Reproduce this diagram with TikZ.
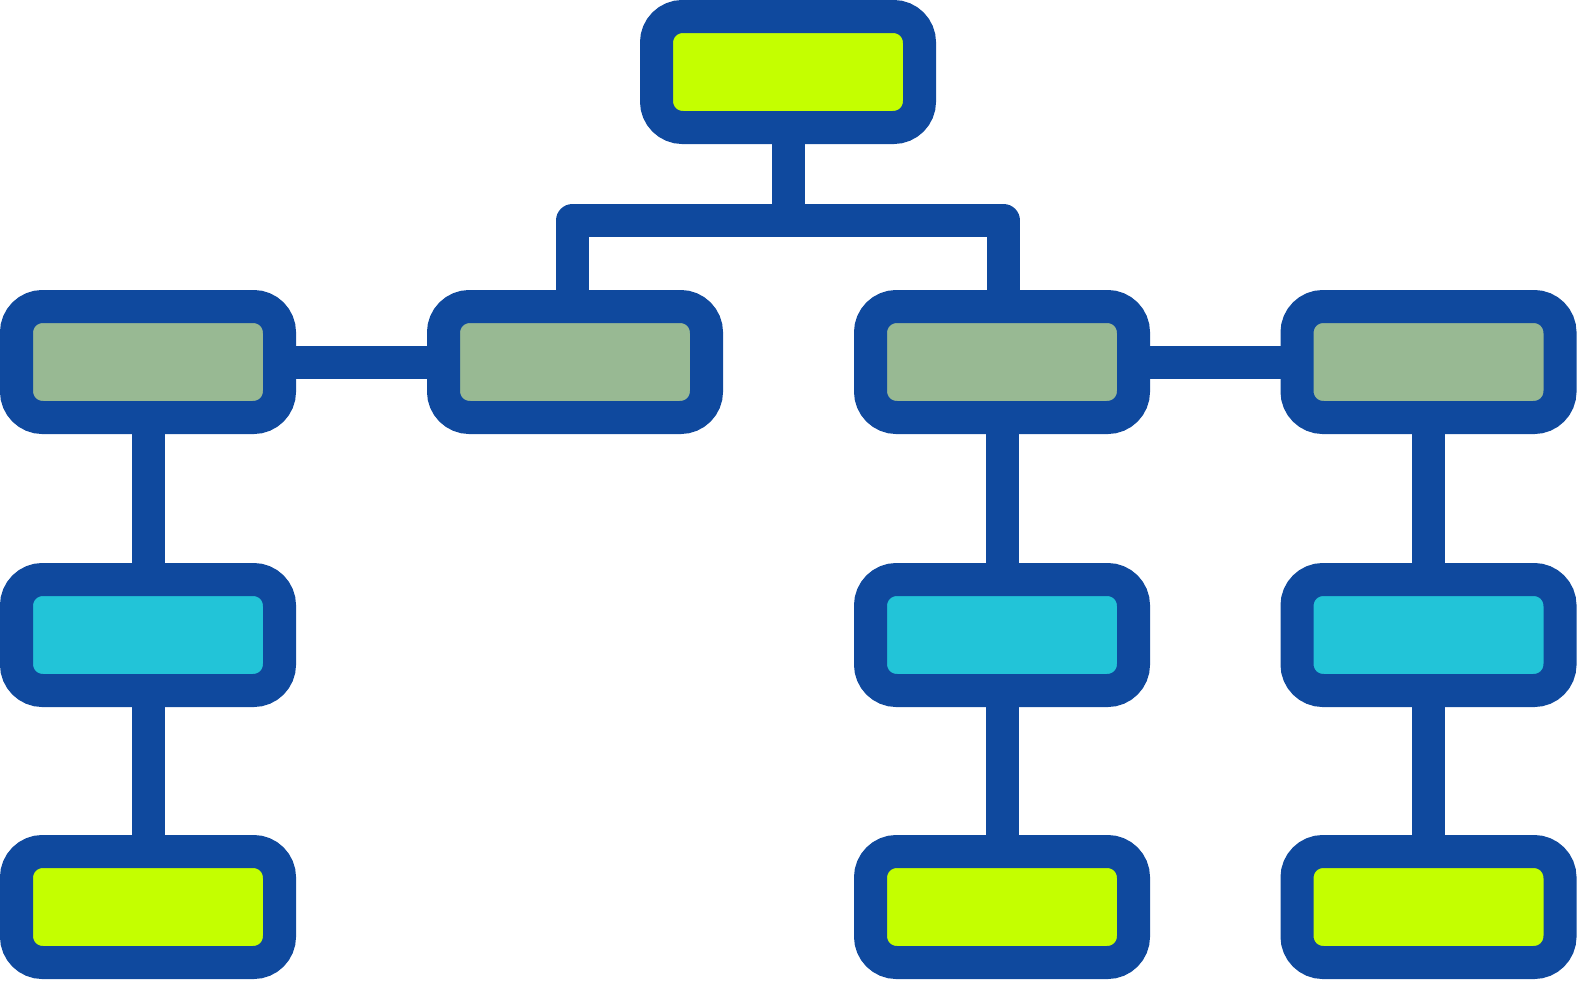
\documentclass[tikz,border=0pt]{standalone}
\usetikzlibrary{calc}
\definecolor{navy}{RGB}{15,73,158}
\definecolor{lime}{RGB}{196,255,0}
\definecolor{sage}{RGB}{152,185,147}
\definecolor{aqua}{RGB}{34,196,216}
\begin{document}
\begin{tikzpicture}[x=1pt,y=-1pt,
  box/.style={draw=navy, line width=33pt, rounded corners=26pt, minimum width=263pt, minimum height=111pt, inner sep=0pt},
  conn/.style={draw=navy, line width=33pt, line join=round}]
\useasboundingbox (0,0) rectangle (1577,980);
% connectors drawn after nodes but only over the borders
\node[box, fill=lime] (t) at (788,72) {};
\node[box, fill=sage] (b1) at (148,362) {};
\node[box, fill=sage] (b2) at (575,362) {};
\node[box, fill=sage] (b3) at (1002,362) {};
\node[box, fill=sage] (b4) at (1428.5,362) {};
\node[box, fill=aqua] (c1) at (148,635) {};
\node[box, fill=aqua] (c3) at (1002,635) {};
\node[box, fill=aqua] (c4) at (1428.5,635) {};
\node[box, fill=lime] (d1) at (148,907) {};
\node[box, fill=lime] (d3) at (1002,907) {};
\node[box, fill=lime] (d4) at (1428.5,907) {};
\coordinate (j) at (788,220.5);
\draw[conn] (t.south) -- (j);
\draw[conn] ([xshift=-2.5pt]b2.north) |- (j) -| ([xshift=1.5pt]b3.north);
\draw[conn] (b1.east) -- (b2.west);
\draw[conn] (b3.east) -- (b4.west);
\draw[conn] (b1.south) -- (c1.north);
\draw[conn] (c1.south) -- (d1.north);
\draw[conn] (b3.south) -- (c3.north);
\draw[conn] (c3.south) -- (d3.north);
\draw[conn] (b4.south) -- (c4.north);
\draw[conn] (c4.south) -- (d4.north);
\end{tikzpicture}
\end{document}
